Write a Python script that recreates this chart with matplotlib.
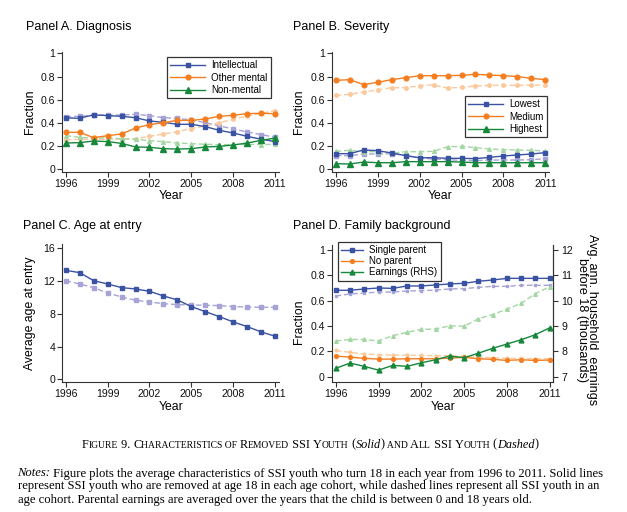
import matplotlib
matplotlib.use('Agg')
import matplotlib.pyplot as plt
from matplotlib.lines import Line2D
from matplotlib.font_manager import FontProperties

W, H = 627, 512
years = list(range(1996, 2012))
xticks = [1996, 1999, 2002, 2005, 2008, 2011]
frac_ticks = [0, 0.2, 0.4, 0.6, 0.8, 1]
frac_labels = ['0', '0.2', '0.4', '0.6', '0.8', '1']
age_ticks = [0, 4, 8, 12, 16]
earn_ticks = [7, 8, 9, 10, 11, 12]

# Panel A. Diagnosis
intel_solid = [0.443, 0.440, 0.470, 0.463, 0.457, 0.445, 0.417, 0.405, 0.388, 0.388, 0.368, 0.336, 0.313, 0.284, 0.259, 0.239]
intel_dash = [0.454, 0.457, 0.466, 0.468, 0.468, 0.474, 0.463, 0.445, 0.440, 0.425, 0.402, 0.374, 0.348, 0.322, 0.299, 0.276]
other_solid = [0.319, 0.319, 0.273, 0.290, 0.305, 0.356, 0.385, 0.402, 0.422, 0.422, 0.434, 0.457, 0.466, 0.480, 0.483, 0.480]
other_dash = [0.253, 0.259, 0.261, 0.259, 0.261, 0.264, 0.284, 0.305, 0.325, 0.351, 0.374, 0.402, 0.431, 0.460, 0.483, 0.506]
nonm_solid = [0.227, 0.230, 0.244, 0.239, 0.224, 0.193, 0.190, 0.178, 0.175, 0.178, 0.193, 0.198, 0.210, 0.227, 0.250, 0.270]
nonm_dash = [0.290, 0.276, 0.270, 0.270, 0.264, 0.259, 0.247, 0.239, 0.227, 0.221, 0.216, 0.213, 0.213, 0.216, 0.213, 0.216]

# Panel B. Severity
low_solid = [0.135, 0.135, 0.167, 0.161, 0.141, 0.118, 0.100, 0.100, 0.095, 0.095, 0.092, 0.103, 0.115, 0.124, 0.132, 0.144]
low_dash = [0.118, 0.118, 0.132, 0.132, 0.135, 0.120, 0.098, 0.089, 0.083, 0.078, 0.075, 0.080, 0.080, 0.080, 0.083, 0.092]
med_solid = [0.767, 0.773, 0.730, 0.750, 0.773, 0.790, 0.807, 0.807, 0.807, 0.810, 0.819, 0.813, 0.807, 0.800, 0.784, 0.773]
med_dash = [0.638, 0.647, 0.667, 0.684, 0.704, 0.704, 0.721, 0.727, 0.701, 0.707, 0.718, 0.724, 0.724, 0.724, 0.727, 0.724]
high_solid = [0.049, 0.046, 0.063, 0.057, 0.057, 0.066, 0.066, 0.066, 0.066, 0.063, 0.057, 0.057, 0.057, 0.057, 0.057, 0.057]
high_dash = [0.155, 0.164, 0.152, 0.152, 0.138, 0.152, 0.152, 0.155, 0.195, 0.198, 0.187, 0.175, 0.170, 0.167, 0.164, 0.158]

# Panel C. Age at entry
age_solid = [13.31, 13.03, 12.05, 11.64, 11.20, 11.03, 10.75, 10.18, 9.69, 8.88, 8.26, 7.65, 7.00, 6.43, 5.78, 5.25]
age_dash = [12.05, 11.64, 11.20, 10.54, 10.06, 9.65, 9.45, 9.24, 9.12, 9.08, 9.04, 9.00, 8.88, 8.83, 8.79, 8.79]

# Panel D. Family background
single_solid = [0.682, 0.682, 0.692, 0.700, 0.697, 0.716, 0.716, 0.724, 0.732, 0.737, 0.753, 0.763, 0.776, 0.776, 0.776, 0.776]
single_dash = [0.637, 0.653, 0.660, 0.668, 0.668, 0.676, 0.679, 0.684, 0.692, 0.695, 0.705, 0.713, 0.713, 0.721, 0.721, 0.721]
nopar_solid = [0.163, 0.155, 0.145, 0.139, 0.139, 0.142, 0.142, 0.142, 0.147, 0.153, 0.142, 0.137, 0.129, 0.134, 0.129, 0.132]
nopar_dash = [0.208, 0.192, 0.179, 0.174, 0.171, 0.171, 0.168, 0.166, 0.166, 0.158, 0.155, 0.150, 0.145, 0.145, 0.142, 0.142]
earn_solid = [7.33, 7.54, 7.41, 7.26, 7.45, 7.41, 7.55, 7.67, 7.82, 7.75, 7.93, 8.12, 8.29, 8.46, 8.66, 8.93]
earn_dash = [8.41, 8.47, 8.47, 8.41, 8.62, 8.75, 8.87, 8.88, 9.01, 8.99, 9.29, 9.45, 9.67, 9.89, 10.28, 10.55]

BLUE, BLUE_L = '#3a52a3', '#a6a3d6'
ORANGE, ORANGE_L = '#f47d20', '#fbc99c'
GREEN, GREEN_L = '#17873c', '#a3d6a2'
AXC = '#333333'

plt.rcParams['font.family'] = ['Liberation Sans', 'DejaVu Sans']
fig = plt.figure(figsize=(W / 100, H / 100), dpi=100)

FS_TICK = 7.6
FS_LAB = 8.8
FS_TITLE = 9.0
FS_LEG = 7.0


def rect(left, right, top, bottom):
    return [left / W, 1 - bottom / H, (right - left) / W, (bottom - top) / H]


def style(ax, right=False):
    ax.spines['top'].set_visible(False)
    ax.spines['right'].set_visible(right)
    for s in ax.spines.values():
        s.set_linewidth(0.8)
        s.set_color(AXC)
    ax.tick_params(direction='out', length=3.5, width=0.8, labelsize=FS_TICK,
                   pad=1.5, color=AXC, labelcolor='#111111')
    ax.set_xticks(xticks)
    ax.patch.set_alpha(0)


def pair(ax, solid, dash, c, cl, m, ms):
    ax.plot(years, dash, color=cl, ls=(0, (4, 2)), lw=1.0, marker=m,
            ms=ms * 0.75, mec=cl, mfc=cl, zorder=2)
    ax.plot(years, solid, color=c, ls='-', lw=1.0, marker=m, ms=ms,
            mec=c, mfc=c, zorder=3)


def handle(c, m, ms):
    return Line2D([], [], color=c, lw=1.0, marker=m, ms=ms, mec=c, mfc=c)


def legend(ax, handles, labels, left, top, hl=3.6, ls=0.25):
    lg = ax.legend(handles, labels, loc='upper left',
                   bbox_to_anchor=(left / W, 1 - top / H),
                   bbox_transform=fig.transFigure, borderaxespad=0,
                   fontsize=FS_LEG, handlelength=hl, handletextpad=0.6,
                   labelspacing=ls, borderpad=0.35, fancybox=False,
                   frameon=True, markerscale=1.0)
    fr = lg.get_frame()
    fr.set_edgecolor('black')
    fr.set_linewidth(0.9)
    return lg


# ---- Panel A
axA = fig.add_axes(rect(62.3, 279.3, 51.7, 172))
style(axA)
pair(axA, intel_solid, intel_dash, BLUE, BLUE_L, 's', 3.4)
pair(axA, other_solid, other_dash, ORANGE, ORANGE_L, 'o', 3.4)
pair(axA, nonm_solid, nonm_dash, GREEN, GREEN_L, '^', 3.7)
axA.set_xlim(1995.76, 2011.29)
axA.set_ylim(-0.023, 1.014)
axA.set_yticks(frac_ticks, frac_labels)
legend(axA, [handle(BLUE, 's', 3.4), handle(ORANGE, 'o', 3.4), handle(GREEN, '^', 3.7)],
       ['Intellectual', 'Other mental', 'Non-mental'], 166.7, 56.7)

# ---- Panel B
axB = fig.add_axes(rect(331.7, 548.7, 51.7, 172))
style(axB)
pair(axB, low_solid, low_dash, BLUE, BLUE_L, 's', 3.4)
pair(axB, med_solid, med_dash, ORANGE, ORANGE_L, 'o', 3.4)
pair(axB, high_solid, high_dash, GREEN, GREEN_L, '^', 3.7)
axB.set_xlim(1995.71, 2011.24)
axB.set_ylim(-0.023, 1.014)
axB.set_yticks(frac_ticks, frac_labels)
legend(axB, [handle(BLUE, 's', 3.4), handle(ORANGE, 'o', 3.4), handle(GREEN, '^', 3.7)],
       ['Lowest', 'Medium', 'Highest'], 465, 95.7)

# ---- Panel C
axC = fig.add_axes(rect(62.3, 279.3, 244.3, 382.3))
style(axC)
pair(axC, age_solid, age_dash, BLUE, BLUE_L, 's', 3.4)
axC.set_xlim(1995.76, 2011.29)
axC.set_ylim(-0.37, 16.49)
axC.set_yticks(age_ticks)

# ---- Panel D
axD = fig.add_axes(rect(331.7, 553.3, 245, 381.7))
style(axD, right=True)
axD2 = axD.twinx()
style(axD2, right=True)
axD2.spines['left'].set_visible(False)
axD2.spines['bottom'].set_visible(False)
pair(axD, single_solid, single_dash, BLUE, BLUE_L, 's', 2.7)
pair(axD, nopar_solid, nopar_dash, ORANGE, ORANGE_L, 'o', 2.7)
pair(axD2, earn_solid, earn_dash, GREEN, GREEN_L, '^', 3.5)
axD.set_xlim(1995.72, 2011.25)
ymin, ymax = -0.039, 1.039
axD.set_ylim(ymin, ymax)
axD2.set_ylim(7 + 5 * ymin, 7 + 5 * ymax)
axD.set_yticks(frac_ticks, frac_labels)
axD2.set_yticks(earn_ticks)
axD2.tick_params(axis='y', pad=2.5)
legend(axD2, [handle(BLUE, 's', 2.7), handle(ORANGE, 'o', 2.7), handle(GREEN, '^', 3.5)],
       ['Single parent', 'No parent', 'Earnings (RHS)'], 337.7, 241.7, hl=2.3, ls=0.12)


def ftext(x, y, s, **kw):
    return fig.text(x / W, 1 - y / H, s, **kw)


ftext(26, 26.7, 'Panel A. Diagnosis', fontsize=FS_TITLE, va='center', ha='left')
ftext(293, 26.7, 'Panel B. Severity', fontsize=FS_TITLE, va='center', ha='left')
ftext(22.7, 225.7, 'Panel C. Age at entry', fontsize=FS_TITLE, va='center', ha='left')
ftext(293.3, 225.7, 'Panel D. Family background', fontsize=FS_TITLE, va='center', ha='left')

ftext(30, 112, 'Fraction', fontsize=FS_LAB, rotation=90, va='center', ha='center')
ftext(299, 112, 'Fraction', fontsize=FS_LAB, rotation=90, va='center', ha='center')
ftext(29.5, 313, 'Average age at entry', fontsize=FS_LAB, rotation=90, va='center', ha='center')
ftext(299, 321.7, 'Fraction', fontsize=FS_LAB, rotation=90, va='center', ha='center')

ftext(170.8, 196, 'Year', fontsize=FS_LAB, va='center', ha='center')
ftext(440.5, 196, 'Year', fontsize=FS_LAB, va='center', ha='center')
ftext(170.8, 407, 'Year', fontsize=FS_LAB, va='center', ha='center')
ftext(442.7, 407, 'Year', fontsize=FS_LAB, va='center', ha='center')

ftext(592, 320, 'Avg. ann. household  earnings', fontsize=9.1, rotation=270, va='center', ha='center')
ftext(581.5, 320, 'before 18 (thousands)', fontsize=9.1, rotation=270, va='center', ha='center')

# ---- caption with small caps (serif)
fig.canvas.draw()
renderer = fig.canvas.get_renderer()
SERIF = ['Liberation Serif', 'DejaVu Serif']


def run_width(s, size, style='normal'):
    fp = FontProperties(family=SERIF, size=size, style=style)

    def w(t):
        ww, hh, dd = renderer.get_text_width_height_descent(t, fp, ismath=False)
        return ww
    return w('x' + s + 'x') - 2 * w('x')


BIG = 8.0
SMALL = 6.3
cap_runs = [('F', BIG, 'normal'), ('IGURE', SMALL, 'normal'), (' 9. ', BIG, 'normal'),
            ('C', BIG, 'normal'), ('HARACTERISTICS OF ', SMALL, 'normal'),
            ('R', BIG, 'normal'), ('EMOVED', SMALL, 'normal'), (' SSI ', BIG, 'normal'),
            ('Y', BIG, 'normal'), ('OUTH', SMALL, 'normal'), (' (', BIG, 'normal'),
            ('Solid', BIG, 'italic'), (')', BIG, 'normal'), (' AND ', SMALL, 'normal'),
            ('A', BIG, 'normal'), ('LL', SMALL, 'normal'), (' SSI ', BIG, 'normal'),
            ('Y', BIG, 'normal'), ('OUTH', SMALL, 'normal'), (' (', BIG, 'normal'),
            ('Dashed', BIG, 'italic'), (')', BIG, 'normal')]
target_w = 538 - 81.7
tot = sum(run_width(s, sz, st) for s, sz, st in cap_runs)
scale = target_w / tot
x = 81.7
for s, sz, st in cap_runs:
    sz2 = sz * scale
    ftext(x, 447.5, s, fontsize=sz2, family=SERIF, style=st, ha='left', va='baseline')
    x += run_width(s, sz2, st)

# ---- notes (whole lines)
notes_lead = 'Notes:'
lines = [
    ' Figure plots the average characteristics of SSI youth who turn 18 in each year from 1996 to 2011. Solid lines',
    'represent SSI youth who are removed at age 18 in each age cohort, while dashed lines represent all SSI youth in an',
    'age cohort. Parental earnings are averaged over the years that the child is between 0 and 18 years old.',
]
NX0, NX1 = 17.5, 605.5
t_lead = ftext(NX0, 476.5, notes_lead, fontsize=10, family=SERIF, style='italic', ha='left', va='baseline')
t_l1 = ftext(NX0, 476.5, lines[0], fontsize=10, family=SERIF, ha='left', va='baseline')
fig.canvas.draw()
w_lead = t_lead.get_window_extent(renderer).width
w_l1 = run_width(lines[0], 10)
NFS = 10 * (NX1 - NX0) / (w_lead + w_l1)
t_lead.set_fontsize(NFS)
t_l1.set_fontsize(NFS)
w_lead2 = run_width(notes_lead, NFS, 'italic')
t_l1.set_x((NX0 + w_lead2) / W)
ftext(NX0, 489.5, lines[1], fontsize=NFS, family=SERIF, ha='left', va='baseline')
ftext(NX0, 502.5, lines[2], fontsize=NFS, family=SERIF, ha='left', va='baseline')

fig.savefig('out.png', dpi=100)
